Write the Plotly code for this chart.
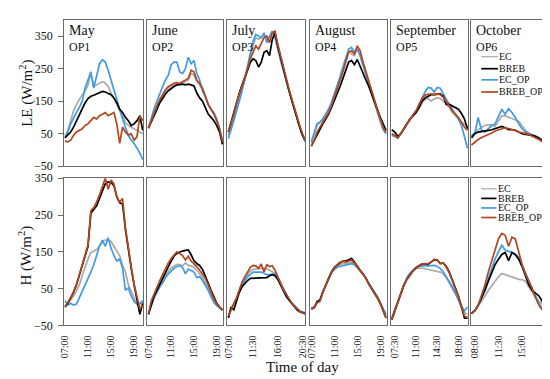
import plotly.graph_objects as go

# ---------------- data ----------------
MONTHS = ["May", "June", "July", "August", "September", "October"]
PERIODS = ["OP1", "OP2", "OP3", "OP4", "OP5", "OP6"]
SERIES = ["EC", "BREB", "EC_OP", "BREB_OP"]

# time of day (hours) per month
may_t = [7.0, 7.5, 8.0, 8.5, 9.0, 9.5, 10.0, 10.5, 11.0, 11.5, 12.0, 12.5, 13.0, 13.5,
         14.0, 14.5, 15.0, 15.5, 16.0, 16.5, 17.0, 17.5, 18.0, 18.5, 19.0, 19.5, 20.0, 20.5]
jun_t = [7.0, 7.5, 8.0, 8.5, 9.0, 9.5, 10.0, 10.5, 11.0, 11.5, 12.0, 12.5, 13.0, 13.5,
         14.0, 14.5, 15.0, 15.5, 16.0, 16.5, 17.0, 17.5, 18.0, 18.5, 19.0, 19.5, 20.0]
jul_t = [7.0, 7.5, 8.0, 8.5, 9.0, 9.5, 10.0, 10.5, 11.0, 11.5, 12.0, 12.5, 13.0, 13.5,
         14.0, 14.5, 15.0, 15.5, 16.0, 16.5, 17.0, 17.5, 18.0, 18.5, 19.0, 19.5, 20.0, 20.5, 21.0]
aug_t = [7.0, 7.5, 8.0, 8.5, 9.0, 9.5, 10.0, 10.5, 11.0, 11.5, 12.0, 12.5, 13.0, 13.5,
         14.0, 14.5, 15.0, 15.5, 16.0, 16.5, 17.0, 17.5, 18.0, 18.5, 19.0, 19.5, 20.0]
sep_t = [7.0, 7.5, 8.0, 8.5, 9.0, 9.5, 10.0, 10.5, 11.0, 11.5, 12.0, 12.5, 13.0, 13.5,
         14.0, 14.5, 15.0, 15.5, 16.0, 16.5, 17.0, 17.5, 18.0, 18.5, 19.0, 19.5]
oct_t = [7.5, 8.0, 8.5, 9.0, 9.5, 10.0, 10.5, 11.0, 11.5, 12.0, 12.5, 13.0, 13.5,
         14.0, 14.5, 15.0, 15.5, 16.0, 16.5, 17.0, 17.5, 18.0, 18.5, 19.0]

# tick labels per month
may_ticks = ["07:00", "11:00", "15:00", "19:00"]
jun_ticks = ["07:00", "11:00", "15:00", "19:00"]
jul_ticks = ["07:00", "11:30", "16:00", "20:30"]
aug_ticks = ["07:00", "11:00", "15:00", "19:00"]
sep_ticks = ["07:30", "11:00", "14:30", "18:00"]
oct_ticks = ["08:00", "11:30", "15:00", "18:30"]

# ---- LE (W/m2) ----
le_may_ec = [42, 60, 90, 120, 140, 155, 170, 180, 200, 235, 195, 200, 205, 210, 205, 195, 175, 160, 140, 120, 100, 85, 75, 70, 65, 60, 55, 50]
le_may_breb = [37, 45, 55, 70, 90, 105, 125, 145, 158, 165, 168, 172, 176, 180, 178, 175, 170, 160, 145, 125, 115, 100, 90, 75, 80, 90, 105, 60]
le_may_ecop = [37, 55, 80, 100, 115, 130, 150, 190, 215, 240, 190, 230, 265, 277, 270, 245, 215, 185, 150, 120, 95, 70, 45, 30, 20, 5, -10, -30]
le_may_brebop = [27, 25, 30, 45, 55, 60, 65, 75, 80, 90, 100, 95, 105, 110, 115, 105, 110, 115, 80, 20, 70, 55, 45, 50, 30, 40, 105, 90]

le_jun_ec = [67, 90, 115, 135, 152, 168, 182, 190, 195, 200, 200, 200, 205, 210, 215, 235, 230, 210, 200, 185, 160, 140, 125, 110, 90, 65, 25]
le_jun_breb = [67, 85, 107, 125, 145, 160, 172, 182, 190, 195, 200, 202, 202, 200, 202, 200, 197, 175, 160, 150, 130, 110, 100, 90, 75, 55, 17]
le_jun_ecop = [67, 100, 127, 150, 175, 195, 215, 230, 262, 270, 270, 240, 235, 250, 285, 265, 275, 235, 215, 180, 165, 140, 125, 115, 95, 65, 25]
le_jun_brebop = [67, 90, 117, 135, 155, 170, 185, 195, 200, 205, 207, 205, 210, 215, 220, 245, 240, 215, 205, 190, 165, 140, 125, 110, 90, 65, 25]

le_jul_ec = [45, 70, 100, 135, 160, 190, 215, 250, 285, 320, 345, 340, 345, 355, 335, 345, 362, 355, 315, 280, 250, 215, 185, 155, 125, 95, 70, 45, 25]
le_jul_breb = [55, 85, 120, 150, 175, 200, 220, 245, 270, 280, 275, 255, 270, 300, 305, 290, 340, 360, 320, 285, 250, 215, 185, 155, 125, 95, 70, 45, 30]
le_jul_ecop = [35, 60, 90, 120, 150, 180, 220, 260, 300, 335, 355, 350, 345, 360, 330, 350, 365, 345, 305, 275, 245, 215, 185, 155, 125, 95, 70, 45, 25]
le_jul_brebop = [55, 80, 110, 145, 170, 195, 220, 250, 280, 300, 320, 310, 330, 345, 350, 330, 360, 365, 325, 290, 255, 220, 190, 160, 130, 100, 75, 50, 30]

le_aug_ec = [22, 50, 75, 85, 95, 110, 125, 145, 168, 195, 220, 250, 280, 305, 295, 290, 310, 290, 260, 230, 200, 170, 140, 110, 85, 62, 50]
le_aug_breb = [12, 30, 47, 65, 80, 95, 110, 130, 150, 170, 195, 220, 245, 270, 275, 262, 278, 255, 235, 215, 195, 170, 150, 125, 100, 80, 60]
le_aug_ecop = [25, 55, 80, 85, 95, 110, 125, 145, 170, 200, 225, 255, 285, 310, 315, 300, 312, 290, 260, 230, 205, 180, 150, 120, 90, 65, 50]
le_aug_brebop = [12, 30, 55, 70, 85, 100, 115, 135, 160, 185, 210, 240, 270, 300, 305, 295, 320, 305, 270, 240, 210, 180, 150, 120, 95, 70, 55]

le_sep_ec = [50, 45, 38, 50, 65, 78, 92, 103, 113, 128, 145, 155, 158, 150, 157, 160, 158, 150, 140, 130, 115, 105, 95, 85, 80, 70]
le_sep_breb = [62, 55, 42, 50, 65, 80, 95, 105, 115, 130, 150, 160, 165, 170, 170, 172, 172, 165, 140, 140, 135, 130, 125, 112, 95, 65]
le_sep_ecop = [45, 42, 37, 50, 65, 78, 95, 105, 118, 140, 160, 178, 192, 190, 178, 192, 190, 170, 155, 140, 125, 110, 95, 75, 40, 5]
le_sep_brebop = [50, 45, 37, 50, 65, 80, 95, 108, 120, 140, 158, 168, 172, 172, 170, 172, 170, 162, 150, 135, 120, 110, 100, 85, 70, 60]

le_oct_ec = [45, 55, 62, 70, 75, 77, 77, 72, 90, 105, 105, 100, 95, 92, 88, 75, 60, 52, 45, 42, 38, 30, 25, 20]
le_oct_breb = [37, 50, 55, 56, 58, 60, 62, 65, 68, 72, 68, 62, 62, 60, 55, 50, 48, 47, 45, 42, 35, 28, 25, 22]
le_oct_ecop = [42, 50, 100, 60, 55, 65, 75, 80, 105, 125, 110, 127, 115, 100, 80, 65, 55, 50, 45, 42, 38, 30, 25, 20]
le_oct_brebop = [15, 25, 32, 38, 42, 48, 52, 58, 62, 66, 68, 66, 64, 60, 55, 52, 50, 48, 42, 38, 32, 25, 20, 15]

# ---- H (W/m2) ----
h_may_ec = [0, 10, 17, 30, 43, 60, 85, 110, 130, 148, 152, 156, 165, 178, 182, 182, 178, 165, 150, 140, 115, 95, 60, 40, 25, 10, 8, 15]
h_may_breb = [0, 10, 25, 40, 60, 85, 115, 140, 165, 255, 265, 275, 295, 315, 335, 340, 338, 330, 300, 283, 280, 210, 150, 105, 60, 20, -20, 10]
h_may_ecop = [17, 5, 10, 5, 8, 25, 45, 62, 75, 95, 115, 140, 165, 182, 165, 188, 160, 140, 125, 130, 105, 45, 52, 30, 15, 8, 10, 17]
h_may_brebop = [0, 12, 25, 42, 62, 88, 118, 142, 168, 262, 270, 285, 305, 330, 350, 320, 345, 335, 300, 285, 295, 215, 155, 110, 62, 25, -5, 5]

h_jun_ec = [-20, 8, 28, 45, 60, 72, 85, 97, 106, 112, 116, 115, 112, 120, 113, 112, 108, 100, 90, 80, 65, 50, 35, 18, 6, -2, -9]
h_jun_breb = [-20, 8, 30, 45, 62, 78, 95, 110, 125, 138, 146, 150, 152, 154, 155, 142, 126, 118, 113, 102, 85, 65, 45, 25, 10, 0, -8]
h_jun_ecop = [-20, 5, 25, 40, 55, 65, 80, 90, 98, 105, 110, 112, 108, 90, 103, 100, 95, 80, 82, 72, 60, 45, 28, 12, 4, -3, -9]
h_jun_brebop = [-20, 17, 35, 55, 72, 88, 105, 120, 132, 142, 150, 145, 140, 128, 138, 125, 118, 110, 100, 90, 78, 60, 40, 22, 8, 0, -8]

h_jul_ec = [-25, -5, 10, 25, 48, 65, 78, 88, 98, 102, 103, 104, 105, 106, 104, 100, 98, 92, 80, 65, 50, 35, 22, 12, 3, -5, -11, -15, -17]
h_jul_breb = [-30, 0, -8, 15, 40, 55, 65, 72, 78, 78, 78, 80, 80, 78, 80, 85, 88, 85, 75, 60, 45, 30, 20, 10, 0, -8, -13, -16, -18]
h_jul_ecop = [-28, -5, 8, 22, 45, 60, 72, 82, 88, 95, 95, 95, 95, 92, 88, 88, 88, 90, 80, 65, 50, 35, 22, 12, 4, -4, -10, -14, -15]
h_jul_brebop = [-25, -5, 10, 25, 50, 68, 82, 95, 108, 113, 112, 105, 117, 95, 115, 110, 112, 100, 80, 65, 48, 35, 22, 12, 2, -6, -12, -16, -18]

h_aug_ec = [-3, 0, 10, 18, 40, 60, 80, 94, 105, 112, 116, 118, 118, 120, 122, 118, 108, 100, 90, 78, 63, 50, 38, 25, 10, -8, -25]
h_aug_breb = [-5, -2, 15, 18, 40, 60, 80, 95, 108, 115, 120, 125, 125, 128, 132, 122, 110, 100, 90, 78, 62, 50, 38, 25, 10, -10, -30]
h_aug_ecop = [-3, 0, 10, 20, 42, 60, 78, 92, 102, 108, 110, 112, 113, 115, 118, 115, 105, 98, 90, 78, 65, 52, 40, 28, 12, -5, -20]
h_aug_brebop = [-5, -2, 12, 15, 40, 60, 80, 95, 108, 116, 122, 124, 122, 125, 128, 120, 110, 100, 90, 78, 62, 50, 38, 25, 10, -10, -30]

h_sep_ec = [-30, -8, 15, 38, 58, 75, 88, 98, 104, 106, 106, 104, 102, 100, 100, 98, 95, 90, 80, 65, 50, 35, 20, 5, -15, -20]
h_sep_breb = [-35, -10, 15, 40, 60, 75, 88, 98, 106, 112, 117, 118, 116, 122, 128, 128, 118, 120, 110, 95, 75, 50, 30, 0, -30, -30]
h_sep_ecop = [-30, -8, 15, 40, 62, 80, 92, 100, 108, 112, 113, 112, 112, 113, 113, 110, 105, 95, 82, 70, 55, 38, 20, 0, -10, 0]
h_sep_brebop = [-35, -10, 15, 40, 60, 75, 88, 98, 106, 113, 117, 118, 118, 122, 130, 128, 118, 120, 108, 92, 72, 50, 28, 0, -25, -28]

h_oct_ec = [-18, -10, 2, 15, 30, 45, 58, 70, 82, 91, 88, 84, 80, 78, 75, 74, 70, 55, 40, 25, 15, 8, 5, 5]
h_oct_breb = [-18, -10, 5, 25, 45, 70, 95, 115, 130, 143, 148, 126, 148, 142, 130, 110, 85, 60, 45, 38, 30, 15, 0, -5]
h_oct_ecop = [-18, -10, 5, 25, 50, 78, 105, 130, 150, 168, 155, 152, 150, 145, 135, 113, 90, 72, 50, 30, 10, -5, -15, -25]
h_oct_brebop = [-18, -10, 5, 30, 60, 95, 125, 160, 185, 200, 195, 165, 190, 185, 150, 115, 90, 70, 50, 25, 5, -8, -15, -22]

y_ticks = [-50, 50, 150, 250, 350]

# ---------------- assembling ----------------
times = [may_t, jun_t, jul_t, aug_t, sep_t, oct_t]
ticks = [may_ticks, jun_ticks, jul_ticks, aug_ticks, sep_ticks, oct_ticks]
le = [
    [le_may_ec, le_may_breb, le_may_ecop, le_may_brebop],
    [le_jun_ec, le_jun_breb, le_jun_ecop, le_jun_brebop],
    [le_jul_ec, le_jul_breb, le_jul_ecop, le_jul_brebop],
    [le_aug_ec, le_aug_breb, le_aug_ecop, le_aug_brebop],
    [le_sep_ec, le_sep_breb, le_sep_ecop, le_sep_brebop],
    [le_oct_ec, le_oct_breb, le_oct_ecop, le_oct_brebop],
]
hh = [
    [h_may_ec, h_may_breb, h_may_ecop, h_may_brebop],
    [h_jun_ec, h_jun_breb, h_jun_ecop, h_jun_brebop],
    [h_jul_ec, h_jul_breb, h_jul_ecop, h_jul_brebop],
    [h_aug_ec, h_aug_breb, h_aug_ecop, h_aug_brebop],
    [h_sep_ec, h_sep_breb, h_sep_ecop, h_sep_brebop],
    [h_oct_ec, h_oct_breb, h_oct_ecop, h_oct_brebop],
]

COLORS = {"EC": "#A9A9A9", "BREB": "#000000", "EC_OP": "#3F9BE6", "BREB_OP": "#B4461E"}
DRAW_ORDER = [0, 2, 1, 3]
FONT = "Liberation Serif, Times New Roman, serif"

W, H = 550, 379
col_px = [(52, 132), (136, 213), (217, 296), (301, 379), (383, 461), (464, 543)]
row_px = [(5, 157), (169.5, 322.3)]
x_ranges = [(6.9, 20.6), (6.8, 20.15), (6.8, 21.0), (6.8, 20.2), (6.9, 19.6), (7.45, 19.0)]
y_ranges = [(-50, 400), (-50, 350)]


def to_hours(s):
    h, m = s.split(":")
    return int(h) + int(m) / 60.0


fig = go.Figure()
layout = {}
annotations = []
shapes = []

for r in range(2):
    data = le if r == 0 else hh
    for c in range(6):
        k = r * 6 + c + 1
        xa = "x" if k == 1 else f"x{k}"
        ya = "y" if k == 1 else f"y{k}"
        for i in DRAW_ORDER:
            fig.add_trace(go.Scatter(
                x=times[c], y=data[c][i], mode="lines", name=SERIES[i],
                line=dict(color=COLORS[SERIES[i]], width=1.7),
                xaxis=xa, yaxis=ya, showlegend=False))
        x0, x1 = col_px[c]
        y0, y1 = row_px[r]
        xkey = "xaxis" if k == 1 else f"xaxis{k}"
        ykey = "yaxis" if k == 1 else f"yaxis{k}"
        layout[xkey] = dict(
            domain=[x0 / W, x1 / W], anchor=ya, range=list(x_ranges[c]),
            showgrid=False, zeroline=False, showline=True, mirror=True,
            linecolor="#6a6a6a", linewidth=1.2,
            tickvals=[to_hours(t) for t in ticks[c]], ticktext=ticks[c],
            showticklabels=(r == 1), tickangle=-90, ticks="",
            ticklabelstandoff=5,
            tickfont=dict(family=FONT, size=10, color="#111111"),
        )
        layout[ykey] = dict(
            domain=[1 - y1 / H, 1 - y0 / H], anchor=xa, range=list(y_ranges[r]),
            showgrid=False, zeroline=False, showline=True, mirror=True,
            linecolor="#6a6a6a", linewidth=1.2,
            tickvals=y_ticks, showticklabels=(c == 0),
            ticks="outside" if c == 0 else "", ticklen=5, tickcolor="#6a6a6a",
            ticklabelstandoff=3,
            tickfont=dict(family=FONT, size=12, color="#111111"),
        )
        if r == 0:
            annotations.append(dict(
                text=MONTHS[c], xref=f"{xa} domain", yref=f"{ya} domain",
                x=0.04, y=0.995, xanchor="left", yanchor="top", showarrow=False,
                font=dict(family=FONT, size=14, color="#111111")))
            annotations.append(dict(
                text=PERIODS[c], xref=f"{xa} domain", yref=f"{ya} domain",
                x=0.04, y=0.875, xanchor="left", yanchor="top", showarrow=False,
                font=dict(family=FONT, size=12, color="#111111")))
        if c == 5:
            if r == 0:
                ys = [0.748, 0.666, 0.590, 0.507]
                lx0, lx1, tx = 0.13, 0.345, 0.35
            else:
                ys = [0.928, 0.863, 0.798, 0.733]
                lx0, lx1, tx = 0.13, 0.325, 0.33
            for i, s in enumerate(SERIES):
                shapes.append(dict(
                    type="line", xref=f"{xa} domain", yref=f"{ya} domain",
                    x0=lx0, x1=lx1, y0=ys[i], y1=ys[i],
                    line=dict(color=COLORS[s], width=1.7 if s != "EC" else 1.2)))
                annotations.append(dict(
                    text=s, xref=f"{xa} domain", yref=f"{ya} domain",
                    x=tx, y=ys[i], xanchor="left", yanchor="middle", showarrow=False,
                    borderpad=0,
                    font=dict(family=FONT, size=10, color="#111111")))

annotations.append(dict(
    text="LE (W/m<sup>2</sup>)", xref="paper", yref="paper",
    x=13 / W, y=1 - 81 / H, xanchor="center", yanchor="middle",
    textangle=-90, showarrow=False, font=dict(family=FONT, size=15, color="#111111")))
annotations.append(dict(
    text="H (W/m<sup>2</sup>)", xref="paper", yref="paper",
    x=13 / W, y=1 - 250 / H, xanchor="center", yanchor="middle",
    textangle=-90, showarrow=False, font=dict(family=FONT, size=15, color="#111111")))
annotations.append(dict(
    text="Time of day", xref="paper", yref="paper",
    x=293 / W, y=1 - 366 / H, xanchor="center", yanchor="middle",
    showarrow=False, font=dict(family=FONT, size=15, color="#111111")))

fig.update_layout(
    width=W, height=H,
    margin=dict(l=0, r=0, t=0, b=0),
    paper_bgcolor="white", plot_bgcolor="white",
    font=dict(family=FONT, size=12, color="#111111"),
    showlegend=False,
    annotations=annotations, shapes=shapes,
    **layout,
)

fig.write_html("out.html")
